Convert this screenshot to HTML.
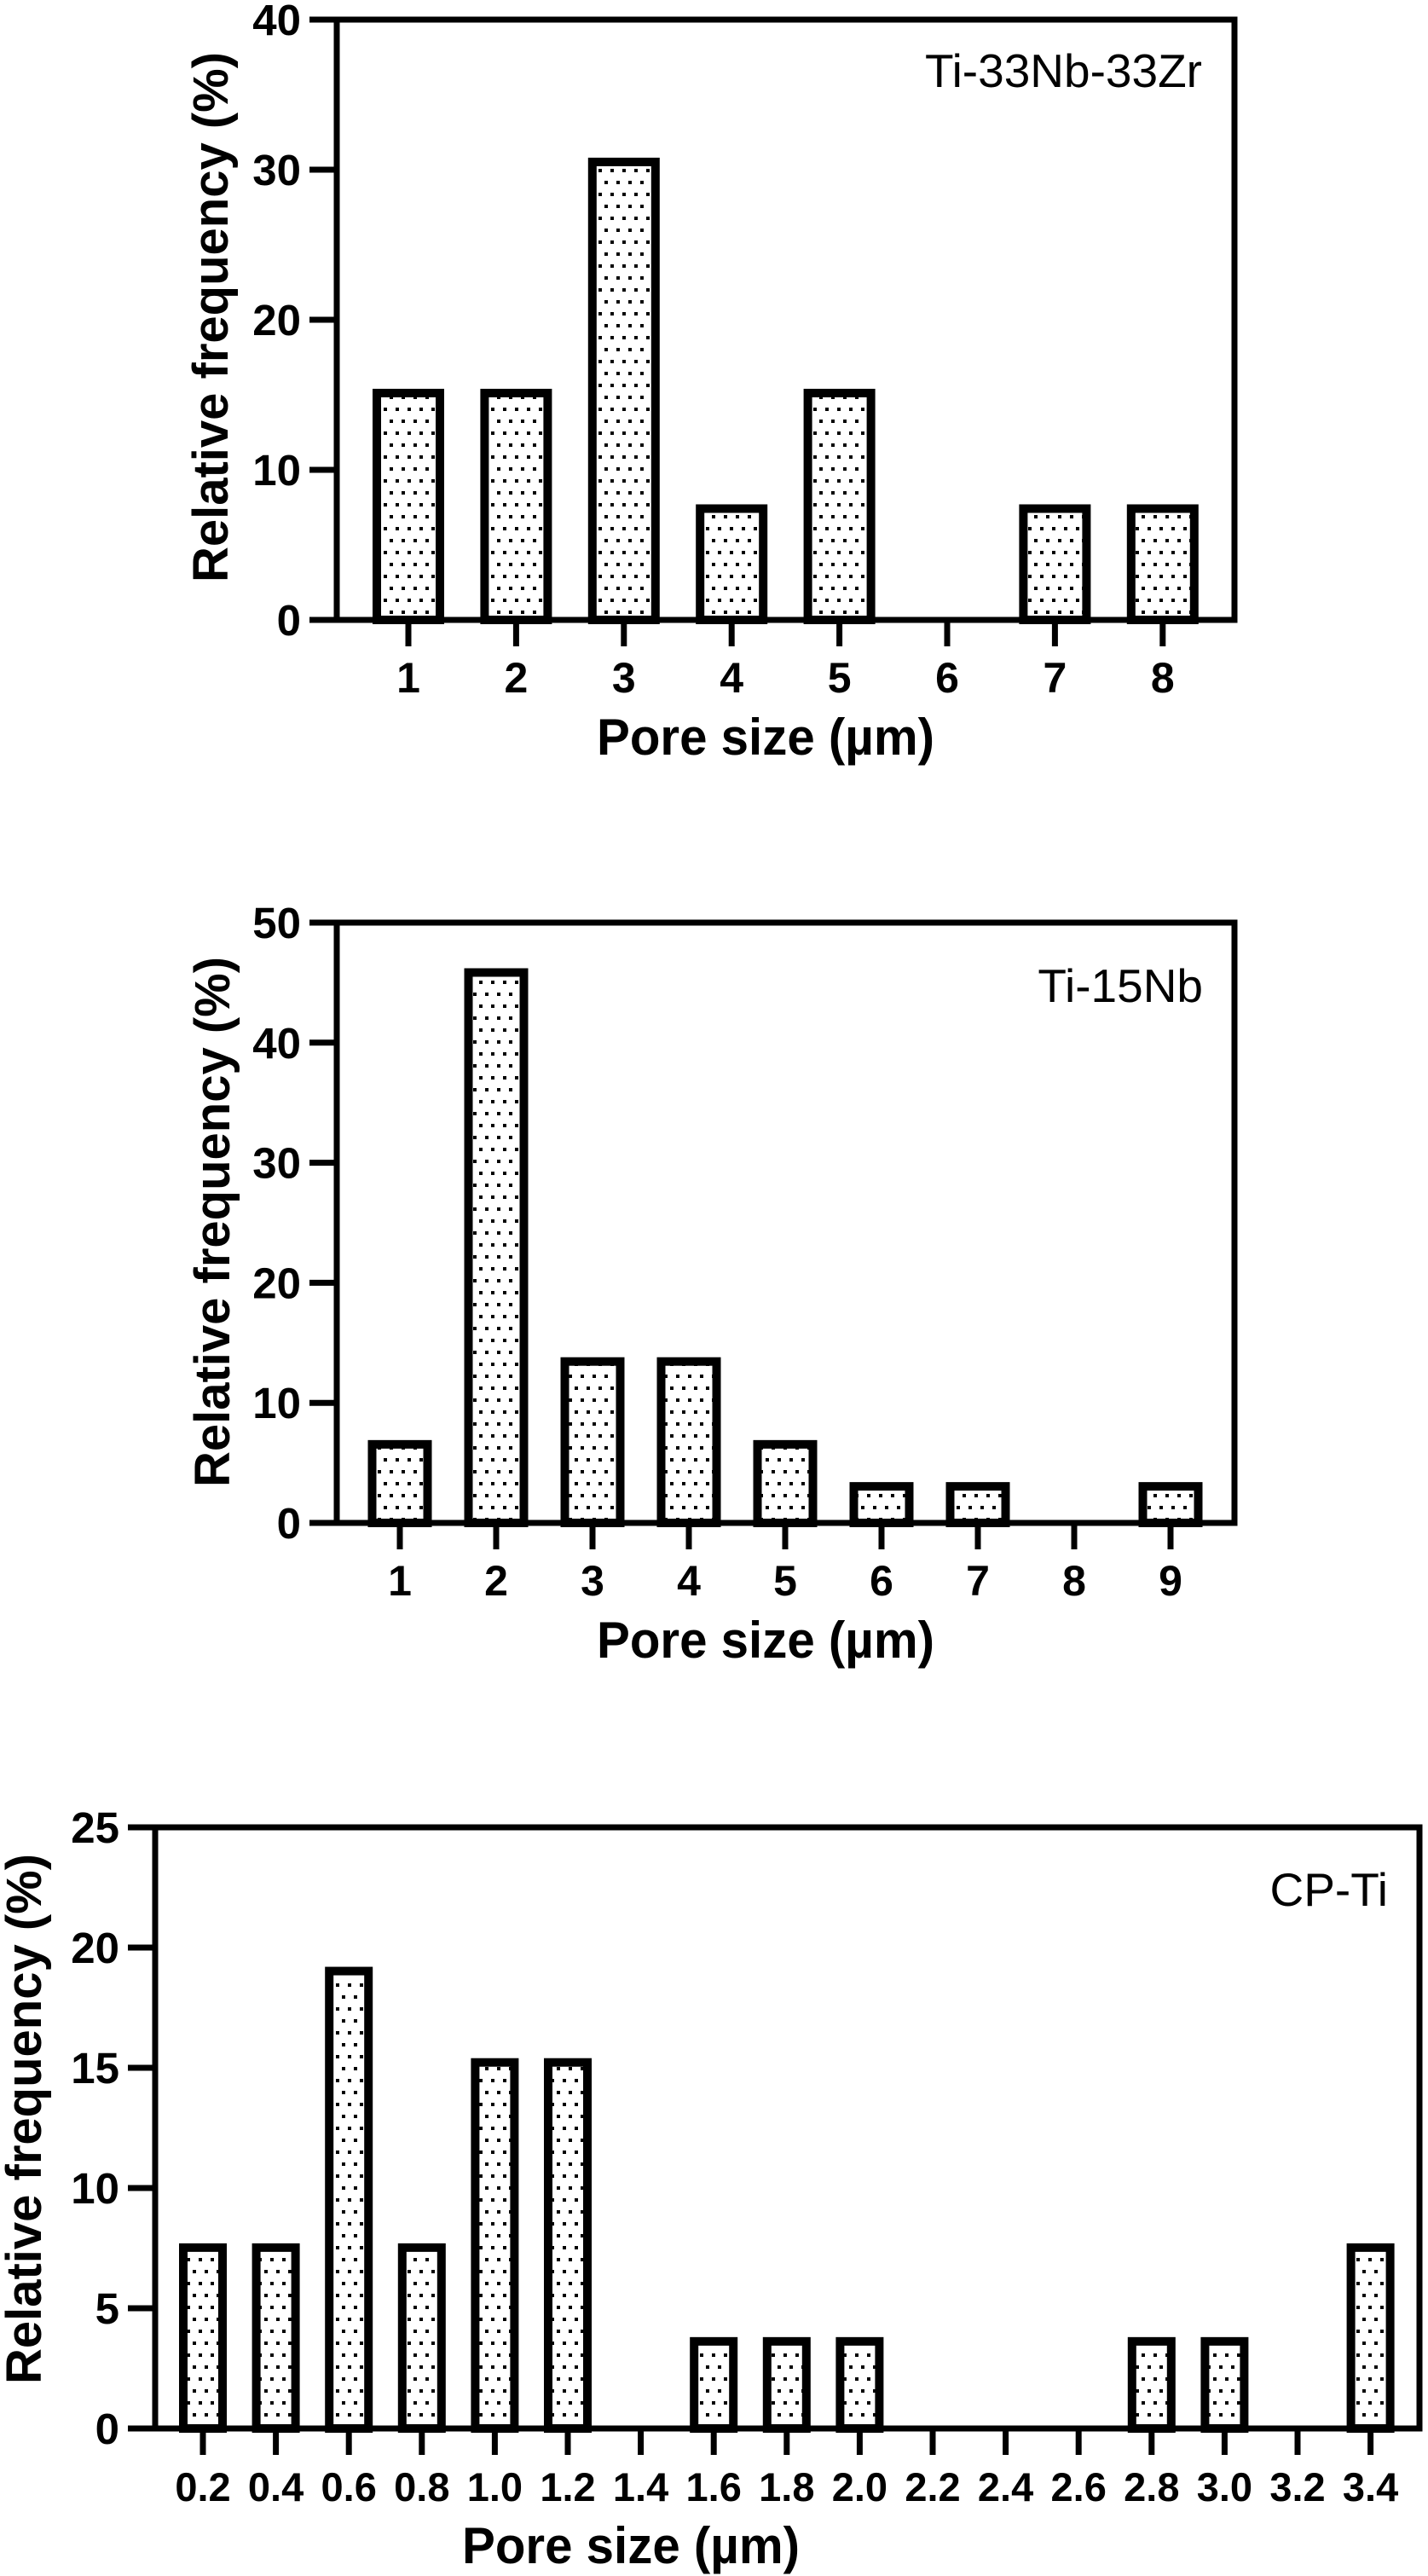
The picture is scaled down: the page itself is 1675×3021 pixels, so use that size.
<!DOCTYPE html>
<html><head><meta charset="utf-8"><style>
html,body{margin:0;padding:0;background:#fff;}
svg{display:block;}
</style></head><body>
<svg id="fig" xmlns="http://www.w3.org/2000/svg" width="1675" height="3021" viewBox="0 0 1675 3021">
<defs>
<pattern id="dots" patternUnits="userSpaceOnUse" width="14" height="28" x="0" y="0">
<rect x="0" y="0" width="14" height="28" fill="#fff"/>
<rect x="2" y="2" width="4" height="4" fill="#000"/>
<rect x="9" y="16" width="4" height="4" fill="#000"/>
</pattern>
</defs>
</svg>
<script>
// Chart 1: Ti-33Nb-33Zr
const cats1 = ["1","2","3","4","5","6","7","8"];
const vals1 = [15.4,15.4,30.8,7.7,15.4,0,7.7,7.7];
const yTicks1 = [0,10,20,30,40];
// Chart 2: Ti-15Nb
const cats2 = ["1","2","3","4","5","6","7","8","9"];
const vals2 = [6.9,46.2,13.8,13.8,6.9,3.4,3.4,0,3.4];
const yTicks2 = [0,10,20,30,40,50];
// Chart 3: CP-Ti
const cats3 = ["0.2","0.4","0.6","0.8","1.0","1.2","1.4","1.6","1.8","2.0","2.2","2.4","2.6","2.8","3.0","3.2","3.4"];
const vals3 = [7.7,7.7,19.2,7.7,15.4,15.4,0,3.8,3.8,3.8,0,0,0,3.8,3.8,0,7.7];
const yTicks3 = [0,5,10,15,20,25];

const NS = "http://www.w3.org/2000/svg";
const svg = document.getElementById('fig');
function mk(tag, attrs, parent){
  const e = document.createElementNS(NS, tag);
  for (const k in attrs) e.setAttribute(k, attrs[k]);
  (parent||svg).appendChild(e);
  return e;
}
const F = '"Liberation Sans", Arial, sans-serif';

function drawChart(cfg, cats, vals, yTicks){
  const g = mk('g', {});
  
  
  const ymax = yTicks[yTicks.length-1];
  const yS = v => cfg.bottom - (v/ymax)*(cfg.bottom-cfg.top);
  const xS = i => cfg.x0 + i*cfg.step;
  cats.forEach((c,i)=>{
    const v = vals[i];
    if (v <= 0) return;
    const w = cfg.barW - 10;
    const r = mk('rect', {x: xS(i)-w/2, y: yS(v)+5, width: w, height: cfg.bottom - yS(v) - 5, fill:'url(#dots)', stroke:'#000', 'stroke-width':10}, g);
    
    
  });
  const fr = mk('rect', {x: cfg.left, y: cfg.top, width: cfg.right-cfg.left, height: cfg.bottom-cfg.top, fill:'none', stroke:'#000', 'stroke-width':7}, g);
  
  
  yTicks.forEach(t=>{
    const y = yS(t);
    const l = mk('line', {x1: cfg.left-32, x2: cfg.left, y1: y, y2: y, stroke:'#000', 'stroke-width':7}, g);
    
    
    const tx = mk('text', {x: cfg.left-42, y: y+18, 'text-anchor':'end', 'font-family':F, 'font-weight':'bold', 'font-size':51}, g);
    tx.textContent = t;
    
    
  });
  cats.forEach((c,i)=>{
    const x = xS(i);
    const l = mk('line', {x1: x, x2: x, y1: cfg.bottom, y2: cfg.bottom+31, stroke:'#000', 'stroke-width':7}, g);
    
    
    const tx = mk('text', {x: x, y: cfg.bottom+85, 'text-anchor':'middle', 'font-family':F, 'font-weight':'bold', 'font-size':cfg.xFont}, g);
    tx.textContent = c;
    
    
  });
  const xt = mk('text', {x: cfg.xTitleX, y: cfg.bottom+158, 'text-anchor':'middle', 'font-family':F, 'font-weight':'bold', 'font-size':60, textLength:396, lengthAdjust:'spacingAndGlyphs'}, g);
  xt.textContent = 'Pore size (µm)';
  
  
  const yt = mk('text', {x: 0, y: 0, 'text-anchor':'middle', 'font-family':F, 'font-weight':'bold', 'font-size':58, transform:`translate(${cfg.yTitleX},${cfg.yTitleY}) rotate(-90)`}, g);
  yt.textContent = 'Relative frequency (%)';
  
  
  const lb = mk('text', {x: cfg.labelX, y: cfg.labelY, 'text-anchor':'end', 'font-family':F, 'font-size':55}, g);
  lb.textContent = cfg.label;
  
  
}

drawChart({name:'chart-ti-33nb-33zr', left:395, right:1448, top:23, bottom:727, x0:479, step:126.4, barW:84, xFont:50,
  xTitleX:898, yTitleX:267, yTitleY:372, label:'Ti-33Nb-33Zr', labelX:1410, labelY:102}, cats1, vals1, yTicks1);
drawChart({name:'chart-ti-15nb', left:395, right:1448, top:1082, bottom:1786, x0:469, step:113, barW:75, xFont:50,
  xTitleX:898, yTitleX:269, yTitleY:1433, label:'Ti-15Nb', labelX:1411, labelY:1175}, cats2, vals2, yTicks2);
drawChart({name:'chart-cp-ti', left:182, right:1665, top:2143, bottom:2848, x0:238, step:85.6, barW:56, xFont:47,
  xTitleX:740, yTitleX:48, yTitleY:2485, label:'CP-Ti', labelX:1628, labelY:2235}, cats3, vals3, yTicks3);
</script>
</body></html>
